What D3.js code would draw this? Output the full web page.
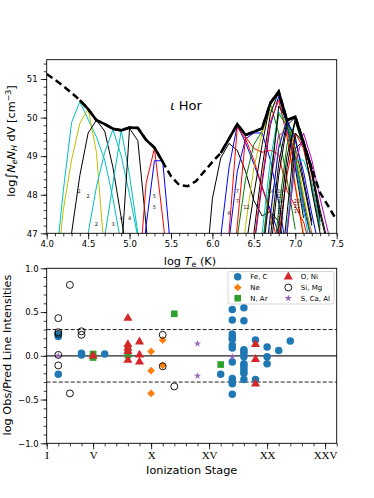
<!DOCTYPE html>
<html>
<head>
<meta charset="utf-8">
<script src="https://cdn.jsdelivr.net/npm/d3@7"></script>
<style>
body { margin: 0; background: #fff; }
svg { display: block; font-family: "DejaVu Sans", sans-serif; }
</style>
</head>
<body>
<svg id="chart" width="374" height="498"></svg>
<script>
// ---------- top panel: emission measure distribution ----------
var emdT = [4.0,4.1,4.2,4.3,4.4,4.5,4.6,4.7,4.8,4.9,5.0,5.1,5.2,5.3,5.4,5.5,5.6,5.7,5.8,5.9,
            6.0,6.1,6.2,6.3,6.4,6.5,6.6,6.7,6.8,6.9,7.0,7.1,7.2,7.3,7.4,7.5];
var emdVal = [51.13,50.98,50.82,50.64,50.45,50.22,49.93,49.83,49.71,49.67,49.74,49.73,49.42,49.22,48.85,48.48,48.25,48.22,48.35,48.6,
              48.85,49.08,49.45,49.83,49.55,49.63,49.72,50.38,50.67,49.93,50.02,49.35,48.66,48.05,47.7,47.34];
var emdSolid = [[4.4, 5.4], [6.1, 7.2]];

// line contribution curves, one value every 0.1 dex starting at ionStart
var ionStart = [4.1, 4.1, 4.2, 4.4, 4.6, 4.8, 5.1, 5.1,
  5.9, 6.1, 6.1, 6.1, 6.2, 6.2, 6.3, 6.3, 6.4, 6.4, 6.4, 6.5, 6.5, 6.5, 6.5,
  6.6, 6.6, 6.6, 6.6, 6.7, 6.7, 6.7, 6.8, 6.8, 6.8, 6.7, 6.8];
var ionColor = ["c","y","k","c","c","k","r","b",
  "k","b","r","b","r","g","y","k","k","b","r","m","c","g","k",
  "y","k","b","k","g","k","r","k","k","c","k","m"];
var ionVals = [
  [46.0,48.1,49.87,50.41,49.95,49.5,48.9,47.9,46.7],
  [45.6,47.6,48.9,49.85,50.23,49.1,46.4],
  [45.0,47.0,48.5,49.6,49.93,49.65,48.7,47.4,46.0],
  [45.3,47.0,48.2,49.1,49.69,49.0,48.0,46.9],
  [45.0,46.9,48.3,49.67,48.5,47.0,45.5],
  [44.0,46.4,49.72,49.4,47.2,45.0],
  [45.5,48.3,49.2,47.4,45.5],
  [45.0,47.2,48.88,48.88,46.5],
  [45.5,47.9,48.95,49.33,49.15,48.6,47.85,47.45,47.57,47.3,46.5],
  [46.9,48.7,49.8,49.35,48.8,48.2,47.6,47.0,46.4],
  [44.5,47.0,49.75,49.45,48.9,48.2,47.5,46.7],
  [44.5,46.8,48.6,49.45,49.6,49.6,48.9,47.8,46.5],
  [45.0,47.2,49.5,49.2,49.1,49.15,49.05,48.1,47.7,47.3,46.5],
  [44.5,46.9,48.4,49.3,49.65,50.35,49.6,48.4,47.1],
  [45.0,47.2,48.7,49.6,50.2,50.5,49.6,48.3,47.0],
  [44.8,46.6,48.0,49.3,50.38,50.6,49.8,48.7,47.4],
  [45.2,47.0,48.7,50.1,50.67,49.9,48.9,47.6],
  [44.8,46.6,48.3,49.8,50.55,49.8,48.8,47.7,46.8],
  [45.0,46.7,48.4,49.9,50.45,49.5,48.2,46.9],
  [44.5,46.5,48.3,49.55,49.65,48.9,47.8,47.0,46.3],
  [45.0,47.0,48.9,50.15,49.9,48.9,47.6,46.5],
  [44.6,46.6,48.5,50.1,49.8,49.0,47.9,46.8],
  [44.4,46.3,48.2,50.3,49.95,49.2,48.3,47.2],
  [45.3,47.3,49.3,50.0,49.2,48.0,46.9],
  [45.0,46.9,48.8,49.9,49.5,48.4,47.3],
  [45.5,47.5,49.2,49.95,49.4,48.6,47.5,46.5],
  [44.5,46.5,48.5,49.8,50.0,49.4,48.5,47.5,46.6],
  [45.6,47.6,49.3,49.9,49.2,48.2,47.1],
  [45.3,47.2,49.0,49.9,49.3,48.6,47.4],
  [45.0,46.9,48.5,49.6,49.2,48.3,47.2],
  [45.5,47.5,49.6,49.35,48.6,47.3],
  [45.0,47.0,49.2,49.4,48.66,47.6,46.7],
  [45.3,47.2,48.9,48.9,48.3,47.2],
  [44.5,46.5,48.7,50.0,49.35,48.1,47.0],
  [45.0,47.0,48.8,49.6,48.9,47.9,47.0,46.3]
];
// ionisation-stage tags written next to the curves: text, log T, log EM
var ionTags = [
  ["2",4.39,48.10],["2",4.50,47.95],["2",4.60,47.24],["3",4.80,47.24],["4",4.90,47.39],["4",5.00,47.39],
  ["5",5.30,47.95],["5",5.30,47.67],["6",6.20,47.53],["7",6.30,48.10],["7",6.30,47.82],["12",6.41,47.67],
  ["16",6.71,48.10],["19",6.82,48.10],["17",6.82,47.96],["14",6.82,47.82],["11",6.82,47.68],["18",6.82,47.54],
  ["10",6.82,47.40],["8",6.71,47.43],["9",6.71,47.27],["7",6.82,47.26],["22",7.02,47.84],["21",7.02,47.70],["13",7.02,47.56]
];

// ---------- bottom panel: obs / predicted ----------
var feC = [[2,0.24],[2,0.22],[2,-0.21],[4,0.03],[4,0.01],[6,0.02],[16,-0.21],
  [17,0.53],[17,0.41],[17,0.25],[17,0.21],[17,0.19],[17,0.12],[17,0.09],[17,-0.07],[17,-0.26],[17,-0.29],[17,-0.32],[17,-0.44],
  [18,0.55],[18,0.40],[18,0.07],[18,0.05],[18,0.02],[18,-0.01],[18,-0.09],[18,-0.11],[18,-0.14],[18,-0.17],[18,-0.20],[18,-0.27],
  [19,0.18],[19,-0.27],[20,0.10],[20,-0.01],[20,-0.09],[21,0.06],[22,0.17]];
var ne = [[10,0.05],[10,-0.17],[10,-0.43],[11,0.18],[11,-0.11]];
var nAr = [[5,0.02],[5,-0.02],[8,0.06],[8,0.01],[12,0.48],[16,-0.10]];
var oNi = [[5,0.0],[8,0.43],[8,0.13],[8,0.09],[8,0.05],[8,-0.05],[9,0.16],[9,0.01],[9,-0.07],[19,0.13],[19,-0.04],[19,-0.32]];
var siMg = [[2,0.43],[2,0.27],[2,0.25],[2,0.01],[2,-0.11],[3,0.81],[3,-0.43],[4,0.28],[4,0.24],[11,0.24],[11,-0.12],[12,-0.35]];
var sCaAl = [[2,0.0],[14,0.14],[14,-0.23],[17,-0.01]];
var groupNames = ["Fe, C","Ne","N, Ar","O, Ni","Si, Mg","S, Ca, Al"];
var romanTicks = [1,5,10,15,20,25];
var romanLabels = ["I","V","X","XV","XX","XXV"];

var svg = d3.select("#chart");
var mplColor = {b:"#0000ff", g:"#008000", r:"#ff0000", c:"#00bfbf", m:"#bf00bf", y:"#bfbf00", k:"#000000"};

// ===== top panel =====
var L = 46.7, R = 336.7;
var x1 = d3.scaleLinear().domain([4.0, 7.5]).range([L, R]);
var y1 = d3.scaleLinear().domain([47, 51.5]).range([233.3, 59.7]);

svg.append("clipPath").attr("id", "clipTop")
  .append("rect").attr("x", L).attr("y", y1(51.5)).attr("width", R - L).attr("height", y1(47) - y1(51.5));

var topG = svg.append("g").attr("clip-path", "url(#clipTop)");
var line1 = d3.line().x(d => x1(d[0])).y(d => y1(d[1]));

ionVals.forEach(function(v, i) {
  var pts = v.map((e, j) => [ionStart[i] + j * 0.1, e]);
  topG.append("path").attr("d", line1(pts))
    .attr("fill", "none").attr("stroke", mplColor[ionColor[i]]).attr("stroke-width", 1);
});

var emdPts = emdT.map((t, i) => [t, emdVal[i]]);
topG.append("path").attr("d", line1(emdPts))
  .attr("fill", "none").attr("stroke", "#000").attr("stroke-width", 2.5).attr("stroke-dasharray", "7,4");
emdSolid.forEach(function(s) {
  var seg = emdPts.filter(p => p[0] >= s[0] - 1e-6 && p[0] <= s[1] + 1e-6);
  topG.append("path").attr("d", line1(seg))
    .attr("fill", "none").attr("stroke", "#000").attr("stroke-width", 2.6).attr("stroke-linejoin", "miter");
});

topG.selectAll(".tag").data(ionTags).enter().append("text")
  .attr("x", d => x1(d[1])).attr("y", d => y1(d[2]))
  .attr("dy", "0.35em").attr("text-anchor", "middle")
  .attr("font-size", 5).attr("fill", "#111").text(d => d[0]);

var ttl = svg.append("text").attr("x", 186).attr("y", 110).attr("text-anchor", "middle").attr("font-size", 13);
ttl.append("tspan").attr("font-style", "italic").text("ι");
ttl.append("tspan").text(" Hor");

// axes (top)
function styleAxis(g) {
  g.select(".domain").remove();
  g.selectAll("line").attr("stroke", "#000").attr("stroke-width", 0.8);
  g.selectAll("text").attr("fill", "#000").attr("font-family", "DejaVu Sans").attr("font-size", 8.5);
}
svg.append("g").attr("transform", "translate(0," + y1(47) + ")")
  .call(d3.axisBottom(x1).tickValues(d3.range(40, 76, 1).map(d => d / 10)).tickSize(3).tickFormat(""))
  .call(styleAxis);
svg.append("g").attr("transform", "translate(0," + y1(47) + ")")
  .call(d3.axisBottom(x1).tickValues([4.0,4.5,5.0,5.5,6.0,6.5,7.0,7.5]).tickSize(6).tickPadding(2).tickFormat(d3.format(".1f")))
  .call(styleAxis);
svg.append("g").attr("transform", "translate(" + L + ",0)")
  .call(d3.axisLeft(y1).tickValues(d3.range(235, 258, 1).map(d => d / 5)).tickSize(3).tickFormat(""))
  .call(styleAxis);
svg.append("g").attr("transform", "translate(" + L + ",0)")
  .call(d3.axisLeft(y1).tickValues([47,48,49,50,51]).tickSize(6).tickPadding(3).tickFormat(d3.format("d")))
  .call(styleAxis);
svg.append("rect").attr("x", L).attr("y", y1(51.5)).attr("width", R - L).attr("height", y1(47) - y1(51.5))
  .attr("fill", "none").attr("stroke", "#000").attr("stroke-width", 0.9);

var xl = svg.append("text").attr("x", 190).attr("y", 265).attr("text-anchor", "middle").attr("font-size", 11.3);
xl.append("tspan").text("log ");
xl.append("tspan").attr("font-style", "italic").text("T");
xl.append("tspan").attr("font-size", "0.7em").attr("dy", "0.25em").text("e");
xl.append("tspan").attr("dy", "-0.18em").text(" (K)");

var yl = svg.append("text").attr("transform", "translate(15,141) rotate(-90)").attr("text-anchor", "middle").attr("font-size", 11.3);
yl.append("tspan").text("log");
yl.append("tspan").attr("font-size", "1.15em").text("∫");
yl.append("tspan").attr("font-style", "italic").text("N");
yl.append("tspan").attr("font-size", "0.7em").attr("font-style", "italic").attr("dy", "0.25em").text("e");
yl.append("tspan").attr("font-style", "italic").attr("dy", "-0.18em").text("N");
yl.append("tspan").attr("font-size", "0.7em").attr("font-style", "italic").attr("dy", "0.25em").text("H");
yl.append("tspan").attr("dy", "-0.18em").text(" dV [cm");
yl.append("tspan").attr("font-size", "0.7em").attr("dy", "-0.55em").text("−3");
yl.append("tspan").attr("dy", "0.39em").text("]");

// ===== bottom panel =====
var x2 = d3.scaleLinear().domain([1, 26]).range([L, R]);
var y2 = d3.scaleLinear().domain([-1, 1]).range([443.3, 268.3]);

[0.3, -0.3].forEach(function(v) {
  svg.append("line").attr("x1", L).attr("x2", R).attr("y1", y2(v)).attr("y2", y2(v))
    .attr("stroke", "#222").attr("stroke-width", 1).attr("stroke-dasharray", "4,2");
});
svg.append("line").attr("x1", L).attr("x2", R).attr("y1", y2(0)).attr("y2", y2(0))
  .attr("stroke", "#222").attr("stroke-width", 1.3);

var groups = [
  {data: feC, shape: d3.symbolCircle, size: 44, fill: "#1f77b4", stroke: "none", rot: 0},
  {data: ne, shape: d3.symbolSquare, size: 30, fill: "#ff7f0e", stroke: "none", rot: 45},
  {data: nAr, shape: d3.symbolSquare, size: 44, fill: "#2ca02c", stroke: "none", rot: 0},
  {data: oNi, shape: d3.symbolTriangle, size: 36, fill: "#d62728", stroke: "none", rot: 0},
  {data: siMg, shape: d3.symbolCircle, size: 38, fill: "none", stroke: "#000", rot: 0},
  {data: sCaAl, shape: d3.symbolStar, size: 16, fill: "#9467bd", stroke: "none", rot: 0}
];
groups.forEach(function(gr) {
  svg.append("g").selectAll("path").data(gr.data).enter().append("path")
    .attr("d", d3.symbol().type(gr.shape).size(gr.size))
    .attr("transform", d => "translate(" + x2(d[0]) + "," + y2(d[1]) + ") rotate(" + gr.rot + ")")
    .attr("fill", gr.fill).attr("stroke", gr.stroke).attr("stroke-width", 0.9);
});

// legend
var lg = svg.append("g");
lg.append("rect").attr("x", 228).attr("y", 271.5).attr("width", 106).attr("height", 32.5).attr("rx", 2)
  .attr("fill", "#fff").attr("fill-opacity", 0.8).attr("stroke", "#ccc").attr("stroke-width", 0.8);
groups.forEach(function(gr, i) {
  var col = Math.floor(i / 3), row = i % 3;
  var mx = col ? 288.3 : 237.7, my = 276.8 + row * 10.7;
  lg.append("path").attr("d", d3.symbol().type(gr.shape).size(gr.size))
    .attr("transform", "translate(" + mx + "," + my + ") rotate(" + gr.rot + ")")
    .attr("fill", gr.fill).attr("stroke", gr.stroke).attr("stroke-width", 0.9);
  lg.append("text").attr("x", mx + 12.5).attr("y", my).attr("dy", "0.35em")
    .attr("font-size", 7).text(groupNames[i]);
});

// axes (bottom)
svg.append("g").attr("transform", "translate(0," + y2(-1) + ")")
  .call(d3.axisBottom(x2).tickValues(d3.range(1, 27)).tickSize(3).tickFormat(""))
  .call(styleAxis);
var bx = svg.append("g").attr("transform", "translate(0," + y2(-1) + ")")
  .call(d3.axisBottom(x2).tickValues(romanTicks).tickSize(6).tickPadding(2).tickFormat((d, i) => romanLabels[i]))
  .call(styleAxis);
bx.selectAll("text").attr("font-family", "Liberation Serif, serif").attr("font-size", 11);
svg.append("g").attr("transform", "translate(" + L + ",0)")
  .call(d3.axisLeft(y2).tickValues(d3.range(-10, 11).map(d => d / 10)).tickSize(3).tickFormat(""))
  .call(styleAxis);
svg.append("g").attr("transform", "translate(" + L + ",0)")
  .call(d3.axisLeft(y2).tickValues([-1, -0.5, 0, 0.5, 1]).tickSize(6).tickPadding(2).tickFormat(d3.format(".1f")))
  .call(styleAxis);
svg.append("rect").attr("x", L).attr("y", y2(1)).attr("width", R - L).attr("height", y2(-1) - y2(1))
  .attr("fill", "none").attr("stroke", "#000").attr("stroke-width", 0.9);

svg.append("text").attr("x", 191.7).attr("y", 474).attr("text-anchor", "middle").attr("font-size", 11.3)
  .text("Ionization Stage");
svg.append("text").attr("transform", "translate(10.5,355) rotate(-90)").attr("text-anchor", "middle")
  .attr("font-size", 11.3).text("log Obs/Pred Line Intensities");
</script>
</body>
</html>
